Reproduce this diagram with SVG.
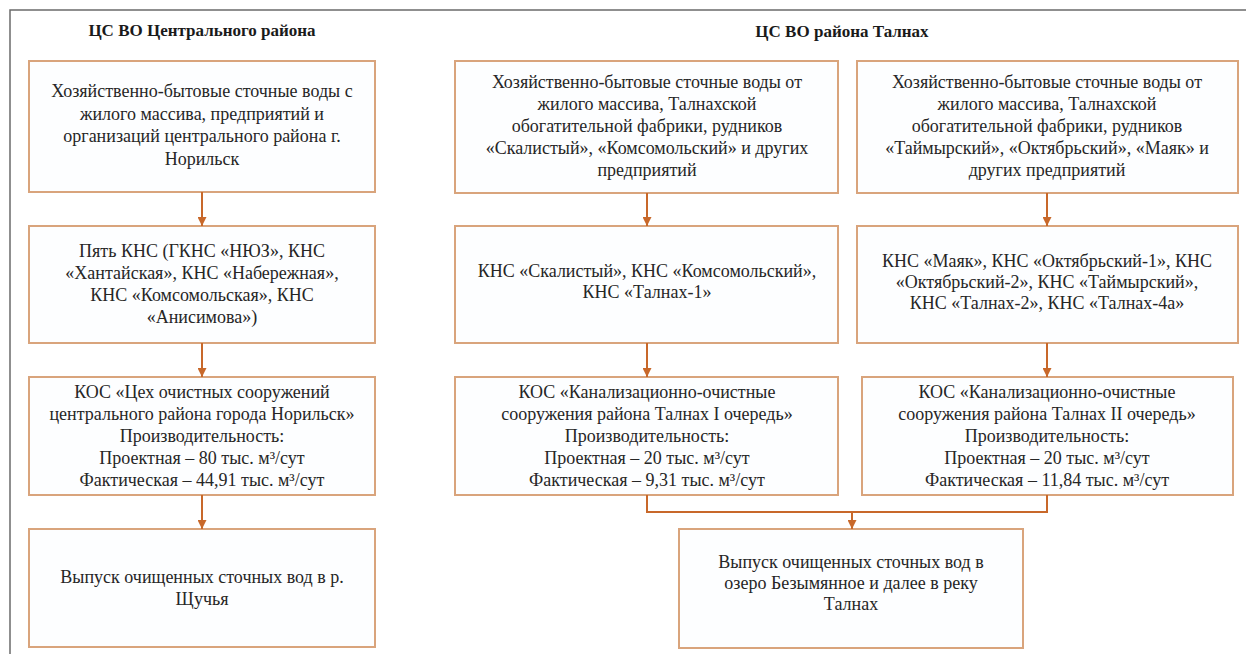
<svg xmlns="http://www.w3.org/2000/svg" width="1246" height="654" viewBox="0 0 1246 654">
<defs>
<marker id="ah" viewBox="0 0 10 10" refX="10" refY="5" markerWidth="4.5" markerHeight="4.5" orient="auto" markerUnits="strokeWidth">
<path d="M0,0 L10,5 L0,10 z" fill="#c8682a"/>
</marker>
</defs>
<rect width="1246" height="654" fill="#ffffff"/>
<path d="M10,654 L10,10 L1246,10" stroke="#6b6b6b" stroke-width="1.5" fill="none"/>
<text font-family="Liberation Serif" font-size="17" font-weight="bold" fill="#1a1a1a" text-anchor="middle" x="202" y="36">ЦС ВО Центрального района</text>
<text font-family="Liberation Serif" font-size="17" font-weight="bold" fill="#1a1a1a" text-anchor="middle" x="842" y="37">ЦС ВО района Талнах</text>

<g id="c1">
<rect x="29" y="61" width="346" height="131" fill="#fdfeff" stroke="#d9a47c" stroke-width="2"/>
<text font-family="Liberation Serif" font-size="18" fill="#262626" text-anchor="middle" x="202" y="97">Хозяйственно-бытовые сточные воды с</text>
<text font-family="Liberation Serif" font-size="18" fill="#262626" text-anchor="middle" x="202" y="120">жилого массива, предприятий и</text>
<text font-family="Liberation Serif" font-size="18" fill="#262626" text-anchor="middle" x="202" y="142">организаций центрального района г.</text>
<text font-family="Liberation Serif" font-size="18" fill="#262626" text-anchor="middle" x="202" y="165">Норильск</text>
</g>
<g id="c2">
<rect x="29" y="226" width="346" height="117" fill="#fdfeff" stroke="#d9a47c" stroke-width="2"/>
<text font-family="Liberation Serif" font-size="18" fill="#262626" text-anchor="middle" x="202" y="257">Пять КНС (ГКНС «НЮЗ», КНС</text>
<text font-family="Liberation Serif" font-size="18" fill="#262626" text-anchor="middle" x="202" y="279">«Хантайская», КНС «Набережная»,</text>
<text font-family="Liberation Serif" font-size="18" fill="#262626" text-anchor="middle" x="202" y="301">КНС «Комсомольская», КНС</text>
<text font-family="Liberation Serif" font-size="18" fill="#262626" text-anchor="middle" x="202" y="323">«Анисимова»)</text>
</g>
<g id="c3">
<rect x="29" y="377" width="346" height="118" fill="#fdfeff" stroke="#d9a47c" stroke-width="2"/>
<text font-family="Liberation Serif" font-size="18" fill="#262626" text-anchor="middle" x="202" y="398">КОС «Цех очистных сооружений</text>
<text font-family="Liberation Serif" font-size="18" fill="#262626" text-anchor="middle" x="202" y="420">центрального района города Норильск»</text>
<text font-family="Liberation Serif" font-size="18" fill="#262626" text-anchor="middle" x="202" y="442">Производительность:</text>
<text font-family="Liberation Serif" font-size="18" fill="#262626" text-anchor="middle" x="202" y="464">Проектная – 80 тыс. м³/сут</text>
<text font-family="Liberation Serif" font-size="18" fill="#262626" text-anchor="middle" x="202" y="486">Фактическая – 44,91 тыс. м³/сут</text>
</g>
<g id="c4">
<rect x="29" y="529" width="346" height="118" fill="#fdfeff" stroke="#d9a47c" stroke-width="2"/>
<text font-family="Liberation Serif" font-size="18" fill="#262626" text-anchor="middle" x="202" y="583">Выпуск очищенных сточных вод в р.</text>
<text font-family="Liberation Serif" font-size="18" fill="#262626" text-anchor="middle" x="202" y="605">Щучья</text>
</g>

<g id="t1">
<rect x="455" y="61" width="383" height="132" fill="#fdfeff" stroke="#d9a47c" stroke-width="2"/>
<text font-family="Liberation Serif" font-size="18" fill="#262626" text-anchor="middle" x="647" y="88">Хозяйственно-бытовые сточные воды от</text>
<text font-family="Liberation Serif" font-size="18" fill="#262626" text-anchor="middle" x="647" y="110">жилого массива, Талнахской</text>
<text font-family="Liberation Serif" font-size="18" fill="#262626" text-anchor="middle" x="647" y="132">обогатительной фабрики, рудников</text>
<text font-family="Liberation Serif" font-size="18" fill="#262626" text-anchor="middle" x="647" y="154">«Скалистый», «Комсомольский» и других</text>
<text font-family="Liberation Serif" font-size="18" fill="#262626" text-anchor="middle" x="647" y="176">предприятий</text>
</g>
<g id="t2">
<rect x="455" y="226" width="383" height="117" fill="#fdfeff" stroke="#d9a47c" stroke-width="2"/>
<text font-family="Liberation Serif" font-size="18" fill="#262626" text-anchor="middle" x="647" y="277">КНС «Скалистый», КНС «Комсомольский»,</text>
<text font-family="Liberation Serif" font-size="18" fill="#262626" text-anchor="middle" x="647" y="298">КНС «Талнах-1»</text>
</g>
<g id="t3">
<rect x="455" y="377" width="383" height="118" fill="#fdfeff" stroke="#d9a47c" stroke-width="2"/>
<text font-family="Liberation Serif" font-size="18" fill="#262626" text-anchor="middle" x="647" y="398">КОС «Канализационно-очистные</text>
<text font-family="Liberation Serif" font-size="18" fill="#262626" text-anchor="middle" x="647" y="420">сооружения района Талнах I очередь»</text>
<text font-family="Liberation Serif" font-size="18" fill="#262626" text-anchor="middle" x="647" y="442">Производительность:</text>
<text font-family="Liberation Serif" font-size="18" fill="#262626" text-anchor="middle" x="647" y="464">Проектная – 20 тыс. м³/сут</text>
<text font-family="Liberation Serif" font-size="18" fill="#262626" text-anchor="middle" x="647" y="486">Фактическая – 9,31 тыс. м³/сут</text>
</g>

<g id="r1">
<rect x="857" y="61" width="381" height="132" fill="#fdfeff" stroke="#d9a47c" stroke-width="2"/>
<text font-family="Liberation Serif" font-size="18" fill="#262626" text-anchor="middle" x="1047" y="88">Хозяйственно-бытовые сточные воды от</text>
<text font-family="Liberation Serif" font-size="18" fill="#262626" text-anchor="middle" x="1047" y="110">жилого массива, Талнахской</text>
<text font-family="Liberation Serif" font-size="18" fill="#262626" text-anchor="middle" x="1047" y="132">обогатительной фабрики, рудников</text>
<text font-family="Liberation Serif" font-size="18" fill="#262626" text-anchor="middle" x="1047" y="154">«Таймырский», «Октябрьский», «Маяк» и</text>
<text font-family="Liberation Serif" font-size="18" fill="#262626" text-anchor="middle" x="1047" y="176">других предприятий</text>
</g>
<g id="r2">
<rect x="857" y="226" width="381" height="117" fill="#fdfeff" stroke="#d9a47c" stroke-width="2"/>
<text font-family="Liberation Serif" font-size="18" fill="#262626" text-anchor="middle" x="1047" y="267">КНС «Маяк», КНС «Октябрьский-1», КНС</text>
<text font-family="Liberation Serif" font-size="18" fill="#262626" text-anchor="middle" x="1047" y="288">«Октябрьский-2», КНС «Таймырский»,</text>
<text font-family="Liberation Serif" font-size="18" fill="#262626" text-anchor="middle" x="1047" y="309">КНС «Талнах-2», КНС «Талнах-4а»</text>
</g>
<g id="r3">
<rect x="862" y="377" width="371" height="118" fill="#fdfeff" stroke="#d9a47c" stroke-width="2"/>
<text font-family="Liberation Serif" font-size="18" fill="#262626" text-anchor="middle" x="1047" y="398">КОС «Канализационно-очистные</text>
<text font-family="Liberation Serif" font-size="18" fill="#262626" text-anchor="middle" x="1047" y="420">сооружения района Талнах II очередь»</text>
<text font-family="Liberation Serif" font-size="18" fill="#262626" text-anchor="middle" x="1047" y="442">Производительность:</text>
<text font-family="Liberation Serif" font-size="18" fill="#262626" text-anchor="middle" x="1047" y="464">Проектная – 20 тыс. м³/сут</text>
<text font-family="Liberation Serif" font-size="18" fill="#262626" text-anchor="middle" x="1047" y="486">Фактическая – 11,84 тыс. м³/сут</text>
</g>

<g id="out">
<rect x="679" y="529" width="344" height="119" fill="#fdfeff" stroke="#d9a47c" stroke-width="2"/>
<text font-family="Liberation Serif" font-size="18" fill="#262626" text-anchor="middle" x="851" y="568">Выпуск очищенных сточных вод в</text>
<text font-family="Liberation Serif" font-size="18" fill="#262626" text-anchor="middle" x="851" y="589">озеро Безымянное и далее в реку</text>
<text font-family="Liberation Serif" font-size="18" fill="#262626" text-anchor="middle" x="851" y="610">Талнах</text>
</g>

<g id="connectors" stroke="#c8682a" stroke-width="2" fill="none">
<path marker-end="url(#ah)" d="M202,192 L202,226"/>
<path marker-end="url(#ah)" d="M202,343 L202,377"/>
<path marker-end="url(#ah)" d="M202,495 L202,529"/>
<path marker-end="url(#ah)" d="M647,193 L647,226"/>
<path marker-end="url(#ah)" d="M647,343 L647,377"/>
<path marker-end="url(#ah)" d="M1047,193 L1047,226"/>
<path marker-end="url(#ah)" d="M1047,343 L1047,377"/>
<path d="M647,495 L647,512 L1047,512 L1047,495"/>
<path marker-end="url(#ah)" d="M852,512 L852,529"/>
</g>
</svg>
